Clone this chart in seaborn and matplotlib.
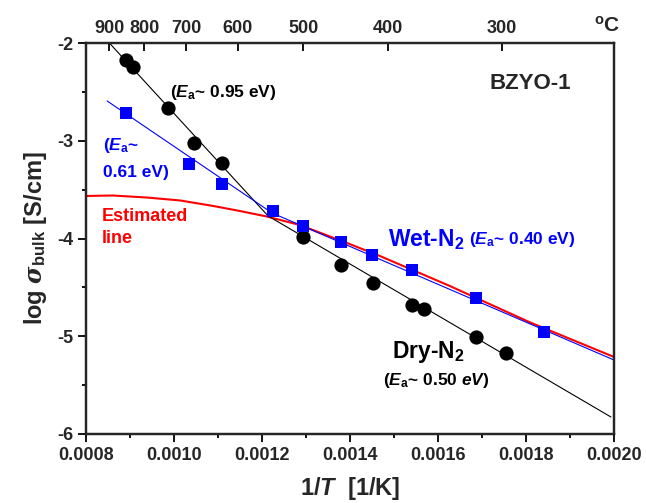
import numpy as np
import pandas as pd
import matplotlib
matplotlib.use("Agg")
import matplotlib.pyplot as plt
import seaborn as sns

# ---------------- data ----------------
dry_x = [0.000892, 0.000906, 0.000986, 0.001045, 0.001109, 0.001293,
         0.001380, 0.001452, 0.001541, 0.001568, 0.001686, 0.001755]
dry_y = [-2.174, -2.246, -2.665, -3.023, -3.228, -3.985,
         -4.271, -4.455, -4.680, -4.721, -5.008, -5.171]

wet_x = [0.000891, 0.001034, 0.001110, 0.001224, 0.001294,
         0.001380, 0.001450, 0.001541, 0.001686, 0.001841]
wet_y = [-2.711, -3.233, -3.442, -3.719, -3.877,
         -4.036, -4.169, -4.322, -4.609, -4.952]

# fitted straight lines (end points)
dry_hi_x = [0.000850, 0.001214]
dry_hi_y = [-1.985, -3.770]
dry_lo_x = [0.001214, 0.001993]
dry_lo_y = [-3.770, -5.826]
wet_hi_x = [0.000848, 0.001223]
wet_hi_y = [-2.593, -3.739]
wet_lo_x = [0.001223, 0.002000]
wet_lo_y = [-3.739, -5.243]

# estimated curve (read points)
est_x = [0.000800, 0.000861, 0.000939, 0.001014, 0.001089, 0.001150, 0.001211,
         0.001286, 0.001393, 0.001468, 0.001627, 0.001809, 0.002000]
est_y = [-3.565, -3.560, -3.581, -3.611, -3.667, -3.719, -3.775,
         -3.862, -4.046, -4.179, -4.486, -4.858, -5.212]

x_ticks = [0.0008, 0.0010, 0.0012, 0.0014, 0.0016, 0.0018, 0.0020]
x_ticklabels = ["0.0008", "0.0010", "0.0012", "0.0014", "0.0016", "0.0018", "0.0020"]
y_ticks = [-6, -5, -4, -3, -2]
top_celsius = [900, 800, 700, 600, 500, 400, 300]

# ---------------- style ----------------
sns.set_theme(style="ticks")
plt.rcParams["font.family"] = ["Liberation Sans", "DejaVu Sans"]
plt.rcParams["font.weight"] = "bold"
plt.rcParams["mathtext.fontset"] = "custom"
plt.rcParams["mathtext.rm"] = "Liberation Sans:bold"
plt.rcParams["mathtext.bf"] = "Liberation Sans:bold"
plt.rcParams["mathtext.it"] = "Liberation Sans:italic:bold"
plt.rcParams["mathtext.sf"] = "Liberation Sans:bold"
plt.rcParams["mathtext.cal"] = "DejaVu Serif:italic"

fig = plt.figure(figsize=(6.46, 5.03), dpi=100)
ax = fig.add_axes([86 / 646, 1 - 434 / 503, 528 / 646, 391 / 503])

BLUE = "#0000ff"
RED = "#ff0000"

# lines
def seg(x, y, color, lw):
    sns.lineplot(x=x, y=y, ax=ax, color=color, linewidth=lw, sort=False,
                 estimator=None, legend=False, zorder=2)

seg(est_x, est_y, RED, 1.5)
seg(dry_hi_x, dry_hi_y, "black", 0.8)
seg(dry_lo_x, dry_lo_y, "black", 0.8)
seg(wet_hi_x, wet_hi_y, BLUE, 0.8)
seg(wet_lo_x, wet_lo_y, BLUE, 0.8)

# markers
sns.scatterplot(x=dry_x, y=dry_y, ax=ax, marker="o", s=105, color="black",
                edgecolor="black", linewidth=0, zorder=3, legend=False)
sns.scatterplot(x=wet_x, y=wet_y, ax=ax, marker="s", s=80, color=BLUE,
                edgecolor=BLUE, linewidth=0, zorder=3, legend=False)

ax.set_xlim(0.0008, 0.0020)
ax.set_ylim(-6, -2)
ax.set_xticks(x_ticks)
ax.set_xticklabels(x_ticklabels)
ax.set_xticks([0.0009, 0.0011, 0.0013, 0.0015, 0.0017, 0.0019], minor=True)
ax.set_yticks(y_ticks)
ax.set_yticklabels([str(v) for v in y_ticks])
ax.set_yticks([-5.5, -4.5, -3.5, -2.5], minor=True)
ax.tick_params(axis="both", which="major", direction="out", length=6, width=1.3,
               labelsize=13, pad=3, color="black")
ax.tick_params(axis="both", which="minor", direction="out", length=3, width=1.3,
               color="black")
ax.tick_params(top=False, right=False)
for lab in ax.get_xticklabels() + ax.get_yticklabels():
    lab.set_fontweight("bold")
for sp in ax.spines.values():
    sp.set_visible(True)
    sp.set_linewidth(1.6)
    sp.set_color("black")

ax.set_xlabel(r"1/$T$  [1/K]", fontsize=17, fontweight="bold", labelpad=8)
ax.set_ylabel(r"log $\mathcal{\sigma}_{\mathrm{bulk}}$ [S/cm]", fontsize=17,
              fontweight="bold", labelpad=6)

# top temperature axis
ax2 = ax.twiny()
ax2.set_xlim(ax.get_xlim())
top_pos = [1.0 / (c + 273.15) for c in top_celsius]
ax2.set_xticks(top_pos)
ax2.set_xticklabels([str(c) for c in top_celsius])
ax2.tick_params(axis="x", direction="in", length=6, width=1.3, labelsize=13,
                pad=4, color="black")
for lab in ax2.get_xticklabels():
    lab.set_fontweight("bold")
for sp in ax2.spines.values():
    sp.set_linewidth(1.6)
ax.text(0.0019853, -1.82, "$^{\\mathrm{o}}$C", fontsize=15, fontweight="bold",
        ha="center", va="center", clip_on=False)

# annotations
ax.text(0.001809, -2.41, "BZYO-1", fontsize=16, fontweight="bold",
        ha="center", va="center")
ax.text(0.000990, -2.51, r"($E_{\mathrm{a}}$~ 0.95 eV)", fontsize=12.5,
        fontweight="bold", ha="left", va="center", color="black")
ax.text(0.000838, -3.05, r"($E_{\mathrm{a}}$~", fontsize=12.5,
        fontweight="bold", ha="left", va="center", color=BLUE)
ax.text(0.000838, -3.32, "0.61 eV)", fontsize=12.5,
        fontweight="bold", ha="left", va="center", color=BLUE)
ax.text(0.000836, -3.777, "Estimated", fontsize=13, fontweight="bold",
        ha="left", va="center", color=RED)
ax.text(0.000836, -3.995, "line", fontsize=13, fontweight="bold",
        ha="left", va="center", color=RED)
ax.text(0.001486, -4.015, r"Wet-N$_{\mathrm{2}}$", fontsize=16.5,
        fontweight="bold", ha="left", va="center", color=BLUE)
ax.text(0.001670, -4.015, r"($E_{\mathrm{a}}$~ 0.40 eV)", fontsize=12.5,
        fontweight="bold", ha="left", va="center", color=BLUE)
ax.text(0.001495, -5.16, r"Dry-N$_{\mathrm{2}}$", fontsize=16.5,
        fontweight="bold", ha="left", va="center", color="black")
ax.text(0.001475, -5.45, r"($E_{\mathrm{a}}$~ 0.50 $eV$)", fontsize=12.5,
        fontweight="bold", ha="left", va="center", color="black")

fig.savefig("out.png", dpi=100)
